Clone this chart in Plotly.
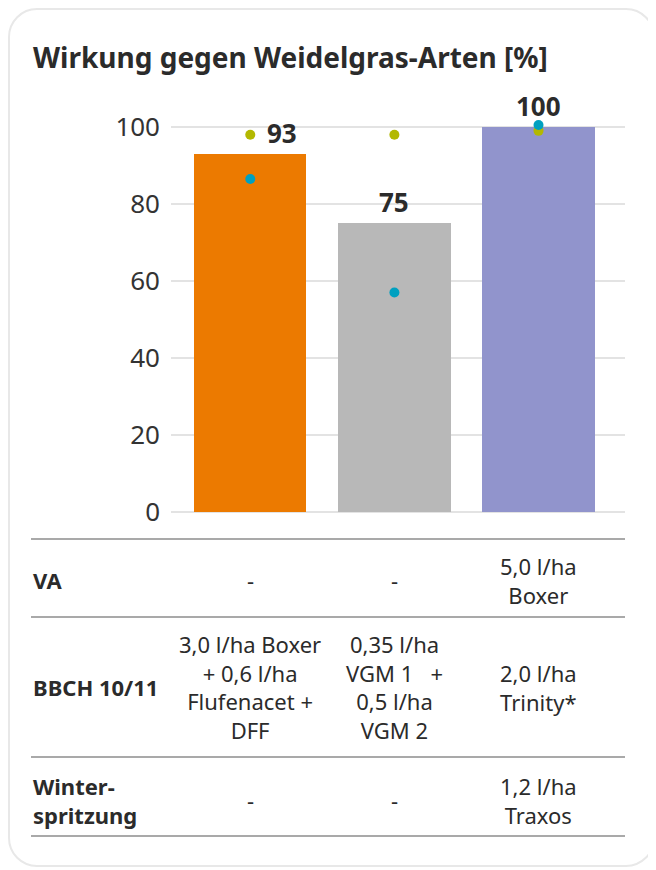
import plotly.graph_objects as go

# chart data
categories = ["Boxer + Flufenacet + DFF", "VGM 1 + VGM 2", "Boxer + Trinity + Traxos"]
bar_values = [93, 75, 100]
green_dots = [98, 98, 99]
blue_dots = [86.5, 57, 100.5]
bar_colors = ["#ec7a00", "#b8b8b8", "#9194cc"]
label_xshift = [32, 0, 0]

# table below the chart
row_labels = ["VA", "BBCH 10/11", "Winter-<br>spritzung"]
va_cells = ["-", "-", "5,0 l/ha<br>Boxer"]
bbch_cells = ["3,0 l/ha Boxer<br>+ 0,6 l/ha<br>Flufenacet +<br>DFF",
              "0,35 l/ha<br>VGM 1   +<br>0,5 l/ha<br>VGM 2",
              "2,0 l/ha<br>Trinity*"]
winter_cells = ["-", "-", "1,2 l/ha<br>Traxos"]
table_rows = [va_cells, bbch_cells, winter_cells]

FONT = "Noto Sans"
DARK = "#2b2b2b"

# the page puts the figure 8px in from the window corner
OFF = 8
W, H = 656 - OFF, 870 - OFF
# plot area in window pixels: x 171..625, y 90..512
L, R, T, B = 171 - OFF, 656 - 625, 90 - OFF, 870 - 512
PW = W - L - R
PH = H - T - B
PX_PER_UNIT = 3.85


def px_x(px):
    return (px - OFF - L) / PW


def px_y(py):
    return (H - B - (py - OFF)) / PH


def rounded_rect(x0, y0, x1, y1, r):
    k = 0.5523 * r
    pts = [
        f"M {px_x(x0 + r)},{px_y(y0)}",
        f"L {px_x(x1 - r)},{px_y(y0)}",
        f"C {px_x(x1 - r + k)},{px_y(y0)} {px_x(x1)},{px_y(y0 + r - k)} {px_x(x1)},{px_y(y0 + r)}",
        f"L {px_x(x1)},{px_y(y1 - r)}",
        f"C {px_x(x1)},{px_y(y1 - r + k)} {px_x(x1 - r + k)},{px_y(y1)} {px_x(x1 - r)},{px_y(y1)}",
        f"L {px_x(x0 + r)},{px_y(y1)}",
        f"C {px_x(x0 + r - k)},{px_y(y1)} {px_x(x0)},{px_y(y1 - r + k)} {px_x(x0)},{px_y(y1 - r)}",
        f"L {px_x(x0)},{px_y(y0 + r)}",
        f"C {px_x(x0)},{px_y(y0 + r - k)} {px_x(x0 + r - k)},{px_y(y0)} {px_x(x0 + r)},{px_y(y0)}",
        "Z",
    ]
    return " ".join(pts)


fig = go.Figure()

fig.add_trace(go.Bar(
    x=categories, y=bar_values,
    marker=dict(color=bar_colors, line=dict(width=0)),
    width=0.78, hoverinfo="y",
))
fig.add_trace(go.Scatter(
    x=categories, y=green_dots, mode="markers",
    marker=dict(color="#b3b800", size=10), cliponaxis=False,
))
fig.add_trace(go.Scatter(
    x=categories, y=blue_dots, mode="markers",
    marker=dict(color="#00a0c0", size=10), cliponaxis=False,
))

# value labels
for c, v, dx in zip(categories, bar_values, label_xshift):
    fig.add_annotation(x=c, y=v, text=f"<b>{v}</b>", showarrow=False,
                       xshift=dx, yshift=21, yanchor="middle",
                       font=dict(family=FONT, size=26, color=DARK))

# title
fig.add_annotation(xref="paper", yref="paper", x=px_x(31), y=px_y(57),
                   text="<b>Wirkung gegen Weidelgras-Arten [%]</b>",
                   showarrow=False, xanchor="left", yanchor="middle",
                   font=dict(family=FONT, size=28, color=DARK))

# table text
row_centers = [580, 687, 800]
for label, cells, yc in zip(row_labels, table_rows, row_centers):
    fig.add_annotation(xref="paper", yref="paper", x=px_x(31), y=px_y(yc),
                       text=f"<b>{label}</b>", showarrow=False,
                       xanchor="left", yanchor="middle", align="left",
                       font=dict(family=FONT, size=22, color=DARK))
    for c, txt in zip(categories, cells):
        fig.add_annotation(x=c, xref="x", yref="paper", y=px_y(yc),
                           text=txt, showarrow=False, yanchor="middle",
                           align="center",
                           font=dict(family=FONT, size=22, color=DARK))

# table lines
for yl in [539, 617, 757, 836]:
    fig.add_shape(type="line", xref="paper", yref="paper",
                  x0=px_x(31), x1=px_x(625), y0=px_y(yl), y1=px_y(yl),
                  line=dict(color="#a9a9a9", width=2))

# card outline (kept inside the figure so the whole stroke shows)
fig.add_shape(type="path", xref="paper", yref="paper",
              path=rounded_rect(9, 9, 654, 866, 28),
              line=dict(color="#e8e8e8", width=2), layer="below")

fig.update_xaxes(type="category", range=[-0.55, 2.6], showticklabels=False,
                 showgrid=False, zeroline=False, showline=False, ticks="")
fig.update_yaxes(range=[0, PH / PX_PER_UNIT], tickvals=[0, 20, 40, 60, 80, 100],
                 showgrid=True, gridcolor="#e3e3e3", gridwidth=2,
                 zeroline=True, zerolinecolor="#e3e3e3", zerolinewidth=2,
                 ticks="", ticklabelstandoff=10,
                 tickfont=dict(family=FONT, size=26, color="#333333"))

fig.update_layout(
    width=W, height=H,
    margin=dict(l=L, r=R, t=T, b=B, pad=0),
    paper_bgcolor="white", plot_bgcolor="white",
    showlegend=False, bargap=0,
    font=dict(family=FONT, color=DARK),
)

fig.write_html("out.html")
